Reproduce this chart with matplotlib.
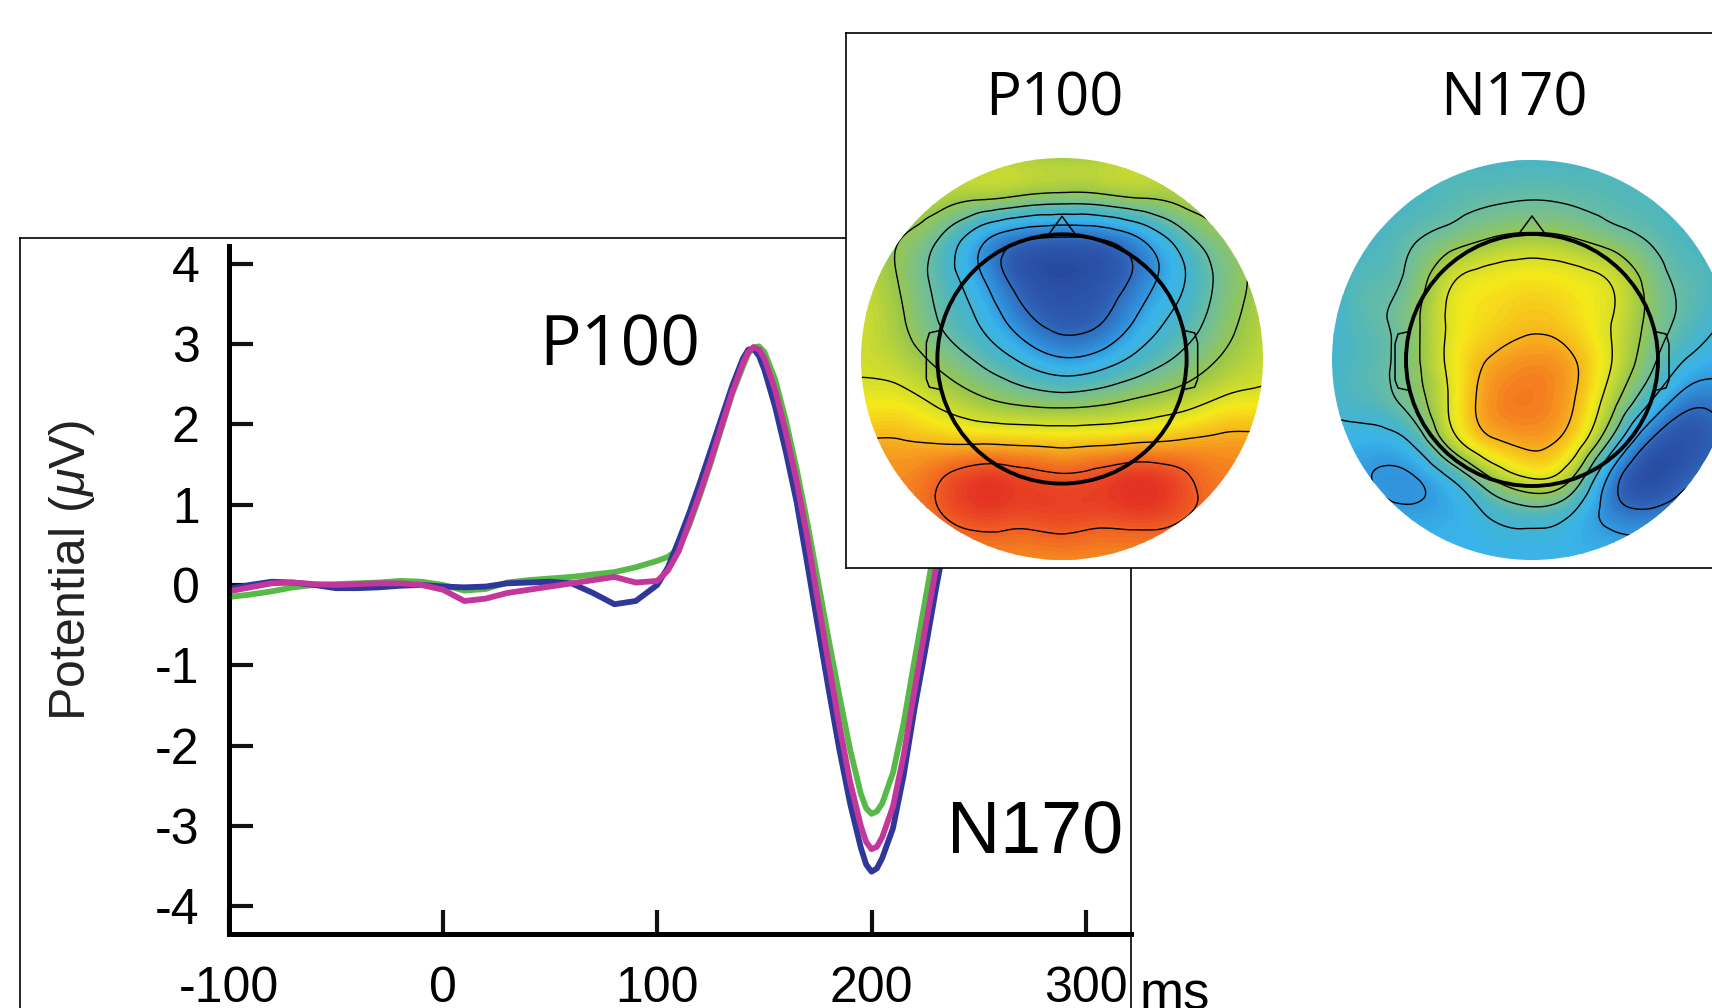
import numpy as np
import matplotlib
matplotlib.use("Agg")
import matplotlib.pyplot as plt
from matplotlib.tri import Triangulation, UniformTriRefiner
from matplotlib.colors import LinearSegmentedColormap
from matplotlib.patches import Circle

# ---- ERP waveforms (ms, microvolts) ----
times = [-100, -90, -80, -70, -60, -50, -40, -30, -20, -10, 0, 10, 20, 30, 40,
         50, 60, 70, 80, 90, 100, 105, 110, 115, 120, 125, 130, 135, 140, 142.5,
         145, 147.5, 150, 155, 160, 165, 170, 175, 180, 185, 190, 195, 197.5,
         200, 202.5, 205, 210, 215, 220, 225, 230, 235, 240, 250]

erp_blue = [-0.05, 0.0, 0.04, 0.03, 0.0, -0.04, -0.04, -0.03, -0.01, 0.0, -0.02,
            -0.03, -0.02, 0.02, 0.03, 0.04, 0.02, -0.1, -0.24, -0.2, 0.0, 0.22,
            0.55, 0.9, 1.28, 1.68, 2.08, 2.48, 2.82, 2.93,
            2.94, 2.85, 2.68, 2.22, 1.66, 1.04, 0.27, -0.52, -1.3, -2.05, -2.72, -3.27, -3.48,
            -3.57, -3.53, -3.4, -3.03, -2.37, -1.55, -0.82, -0.06, 0.65, 1.3, 2.2]

erp_magenta = [-0.08, -0.03, 0.02, 0.03, 0.01, 0.0, 0.01, 0.02, 0.02, 0.0, -0.06,
               -0.2, -0.17, -0.1, -0.06, -0.02, 0.02, 0.06, 0.1, 0.03, 0.05, 0.18,
               0.42, 0.78, 1.15, 1.55, 1.98, 2.4, 2.76, 2.9,
               2.96, 2.93, 2.82, 2.43, 1.9, 1.3, 0.6, -0.2, -0.98, -1.75, -2.45, -3.0, -3.2,
               -3.29, -3.26, -3.14, -2.76, -2.12, -1.32, -0.55, 0.2, 0.9, 1.5, 2.3]

erp_green = [-0.15, -0.12, -0.08, -0.03, 0.0, 0.01, 0.02, 0.03, 0.05, 0.04, 0.0,
             -0.07, -0.05, 0.03, 0.06, 0.08, 0.1, 0.13, 0.16, 0.22, 0.3, 0.35,
             0.45, 0.75, 1.12, 1.52, 1.95, 2.38, 2.72, 2.88,
             2.96, 2.97, 2.9, 2.56, 2.05, 1.45, 0.78, 0.05, -0.68, -1.38, -2.05, -2.6, -2.78,
             -2.85, -2.82, -2.72, -2.34, -1.72, -0.95, -0.2, 0.55, 1.2, 1.75, 2.4]

x_ticks = [-100, 0, 100, 200, 300]
y_ticks = [-4, -3, -2, -1, 0, 1, 2, 3, 4]

# ---- scalp maps: values on an 11x11 grid (rows top -> bottom), 0 = min, 1 = max ----
grid_u = [-1.0, -0.8, -0.6, -0.4, -0.2, 0.0, 0.2, 0.4, 0.6, 0.8, 1.0]
grid_v = [1.0, 0.8, 0.6, 0.4, 0.2, 0.0, -0.2, -0.4, -0.6, -0.8, -1.0]

p100_map = [
    [0.64, 0.64, 0.63, 0.62, 0.61, 0.60, 0.61, 0.62, 0.63, 0.64, 0.64],
    [0.64, 0.63, 0.61, 0.58, 0.55, 0.53, 0.54, 0.57, 0.60, 0.62, 0.63],
    [0.62, 0.57, 0.47, 0.30, 0.18, 0.15, 0.17, 0.28, 0.44, 0.55, 0.60],
    [0.64, 0.56, 0.44, 0.28, 0.10, 0.04, 0.08, 0.21, 0.37, 0.51, 0.60],
    [0.66, 0.58, 0.47, 0.36, 0.20, 0.11, 0.15, 0.30, 0.42, 0.53, 0.62],
    [0.66, 0.62, 0.54, 0.46, 0.36, 0.28, 0.32, 0.42, 0.50, 0.58, 0.64],
    [0.70, 0.70, 0.64, 0.58, 0.54, 0.52, 0.54, 0.58, 0.62, 0.68, 0.70],
    [0.80, 0.80, 0.78, 0.77, 0.76, 0.75, 0.76, 0.78, 0.80, 0.82, 0.82],
    [0.84, 0.86, 0.92, 0.98, 0.96, 0.94, 0.96, 0.99, 0.94, 0.88, 0.84],
    [0.84, 0.86, 0.91, 0.95, 0.94, 0.95, 0.94, 0.95, 0.92, 0.88, 0.84],
    [0.86, 0.86, 0.86, 0.86, 0.86, 0.86, 0.86, 0.86, 0.86, 0.86, 0.86],
]

n170_map = [
    [0.40, 0.40, 0.41, 0.42, 0.42, 0.42, 0.42, 0.42, 0.41, 0.40, 0.40],
    [0.40, 0.41, 0.42, 0.45, 0.47, 0.48, 0.47, 0.45, 0.43, 0.41, 0.40],
    [0.40, 0.42, 0.47, 0.53, 0.58, 0.60, 0.58, 0.53, 0.47, 0.42, 0.40],
    [0.40, 0.45, 0.51, 0.66, 0.71, 0.73, 0.71, 0.66, 0.53, 0.45, 0.40],
    [0.40, 0.46, 0.54, 0.69, 0.75, 0.78, 0.75, 0.67, 0.54, 0.44, 0.36],
    [0.40, 0.45, 0.54, 0.70, 0.81, 0.85, 0.81, 0.67, 0.50, 0.36, 0.30],
    [0.40, 0.44, 0.52, 0.69, 0.85, 0.88, 0.81, 0.61, 0.38, 0.20, 0.24],
    [0.34, 0.33, 0.40, 0.63, 0.79, 0.83, 0.75, 0.46, 0.15, 0.08, 0.20],
    [0.31, 0.27, 0.26, 0.38, 0.56, 0.66, 0.56, 0.22, 0.05, 0.15, 0.25],
    [0.31, 0.31, 0.30, 0.32, 0.38, 0.41, 0.36, 0.24, 0.22, 0.28, 0.30],
    [0.34, 0.34, 0.34, 0.34, 0.34, 0.34, 0.34, 0.34, 0.34, 0.34, 0.34],
]

contour_levels = [0.16, 0.27, 0.38, 0.48, 0.57, 0.67, 0.80, 0.92]

cmap_pos = [0.0, 0.12, 0.25, 0.33, 0.42, 0.50, 0.58, 0.66, 0.72, 0.80, 0.88, 0.95, 1.0]
cmap_cols = ["#24449b", "#2e5cb2", "#3091db", "#38b3ea", "#4ab5c4", "#73bf95",
             "#99c74c", "#cfdc2d", "#f4ea19", "#f7b51d", "#f47d20", "#ec4c24", "#e33123"]
topo_cmap = LinearSegmentedColormap.from_list("topo", list(zip(cmap_pos, cmap_cols)))

plt.rcParams["axes.unicode_minus"] = False
plt.rcParams["mathtext.fontset"] = "custom"
plt.rcParams["mathtext.rm"] = "Liberation Sans"
plt.rcParams["mathtext.it"] = "Liberation Sans:italic"

W, H = 1712, 1008


def fbox(x0, y0, x1, y1):
    # pixel box (top-left origin) -> figure fraction rect
    return [x0 / W, 1 - y1 / H, (x1 - x0) / W, (y1 - y0) / H]


fig = plt.figure(figsize=(W / 100, H / 100), dpi=100)

# outer frame of the ERP panel
frame = fig.add_axes(fbox(20, 238, 1131, 1060), zorder=0)
frame.set_xticks([])
frame.set_yticks([])
frame.spines["bottom"].set_visible(False)
for s in ["top", "left", "right"]:
    frame.spines[s].set_linewidth(1.2)

# ERP axes
ax = fig.add_axes(fbox(228.7, 246, 1131, 934), zorder=1)
ax.patch.set_alpha(0)
ax.plot(times, erp_green, color="#57b947", lw=4.2, solid_joinstyle="round")
ax.plot(times, erp_blue, color="#30379a", lw=4.2, solid_joinstyle="round")
ax.plot(times, erp_magenta, color="#c3379c", lw=4.2, solid_joinstyle="round")
ax.set_xlim(-100, 321.1)
ax.set_ylim(-4.346, 4.22)
for s in ["top", "right"]:
    ax.spines[s].set_visible(False)
for s in ["left", "bottom"]:
    ax.spines[s].set_linewidth(3.6)
ax.set_xticks(x_ticks)
ax.set_yticks(y_ticks)
ax.set_xticklabels([str(t) for t in x_ticks], fontfamily="Liberation Sans", fontsize=36)
ax.set_yticklabels([str(t) for t in y_ticks], fontfamily="Liberation Sans", fontsize=36)
ax.tick_params(axis="both", direction="in", length=17, width=3, color="#111111")
ax.tick_params(axis="x", pad=23)
ax.tick_params(axis="y", pad=21)

ax.text(45, 2.73, "P100", fontfamily="Open Sans", fontsize=50, va="baseline", ha="left")
ax.text(235, -3.34, "N170", fontfamily="Liberation Sans", fontsize=53, va="baseline",
        ha="left", clip_on=False)

fig.text(72 / W, 1 - 570 / H, r"Potential ($\mu$V)", rotation=90, ha="center", va="center",
         fontfamily="Liberation Sans", fontsize=36, color="#222222")
fig.text(1140 / W, 1 - 1009 / H, "ms", fontfamily="Liberation Sans", fontsize=38,
         va="baseline", ha="left")

# inset frame with the scalp maps
ins = fig.add_axes(fbox(846, 33, 1780, 568), zorder=2)
ins.set_xticks([])
ins.set_yticks([])
for s in ins.spines.values():
    s.set_linewidth(1.2)

uu, vv = np.meshgrid(grid_u, grid_v)
tri = Triangulation(uu.ravel(), vv.ravel())
refiner = UniformTriRefiner(tri)


def draw_topo(rect, values, head_r):
    tax = fig.add_axes(rect, zorder=3)
    tax.set_xlim(-1, 1)
    tax.set_ylim(-1, 1)
    tax.axis("off")
    tri_f, z_f = refiner.refine_field(np.ravel(values), subdiv=4)
    disk = Circle((0, 0), 1.0, transform=tax.transData)
    cf = tax.tricontourf(tri_f, z_f, levels=np.linspace(0, 1, 101), cmap=topo_cmap,
                         vmin=0, vmax=1, extend="both")
    cf.set_clip_path(disk)
    cl = tax.tricontour(tri_f, z_f, levels=contour_levels, colors="black", linewidths=1.0)
    cl.set_clip_path(disk)
    tax.add_patch(Circle((0, 0), head_r, fill=False, ec="black", lw=2.8))
    tax.plot([-0.07, 0.0, 0.07], [head_r - 0.005, head_r + 0.09, head_r - 0.005],
             color="black", lw=1.1)
    for side in (-1, 1):
        ex = [side * (head_r - 0.005), side * (head_r + 0.04), side * (head_r + 0.055),
              side * (head_r + 0.055), side * (head_r + 0.04), side * (head_r - 0.005)]
        ey = [0.14, 0.13, 0.08, -0.1, -0.14, -0.15]
        tax.plot(ex, ey, color="black", lw=1.1)
    return tax


draw_topo(fbox(861, 158, 1263, 560), p100_map, 0.62)
draw_topo(fbox(1332, 160, 1732, 560), n170_map, 0.63)

fig.text(1054 / W, 1 - 116 / H, "P100", fontfamily="Open Sans", fontsize=43,
         ha="center", va="baseline", zorder=5)
fig.text(1514 / W, 1 - 116 / H, "N170", fontfamily="Open Sans", fontsize=43,
         ha="center", va="baseline", zorder=5)

fig.savefig("out.png", dpi=100)
